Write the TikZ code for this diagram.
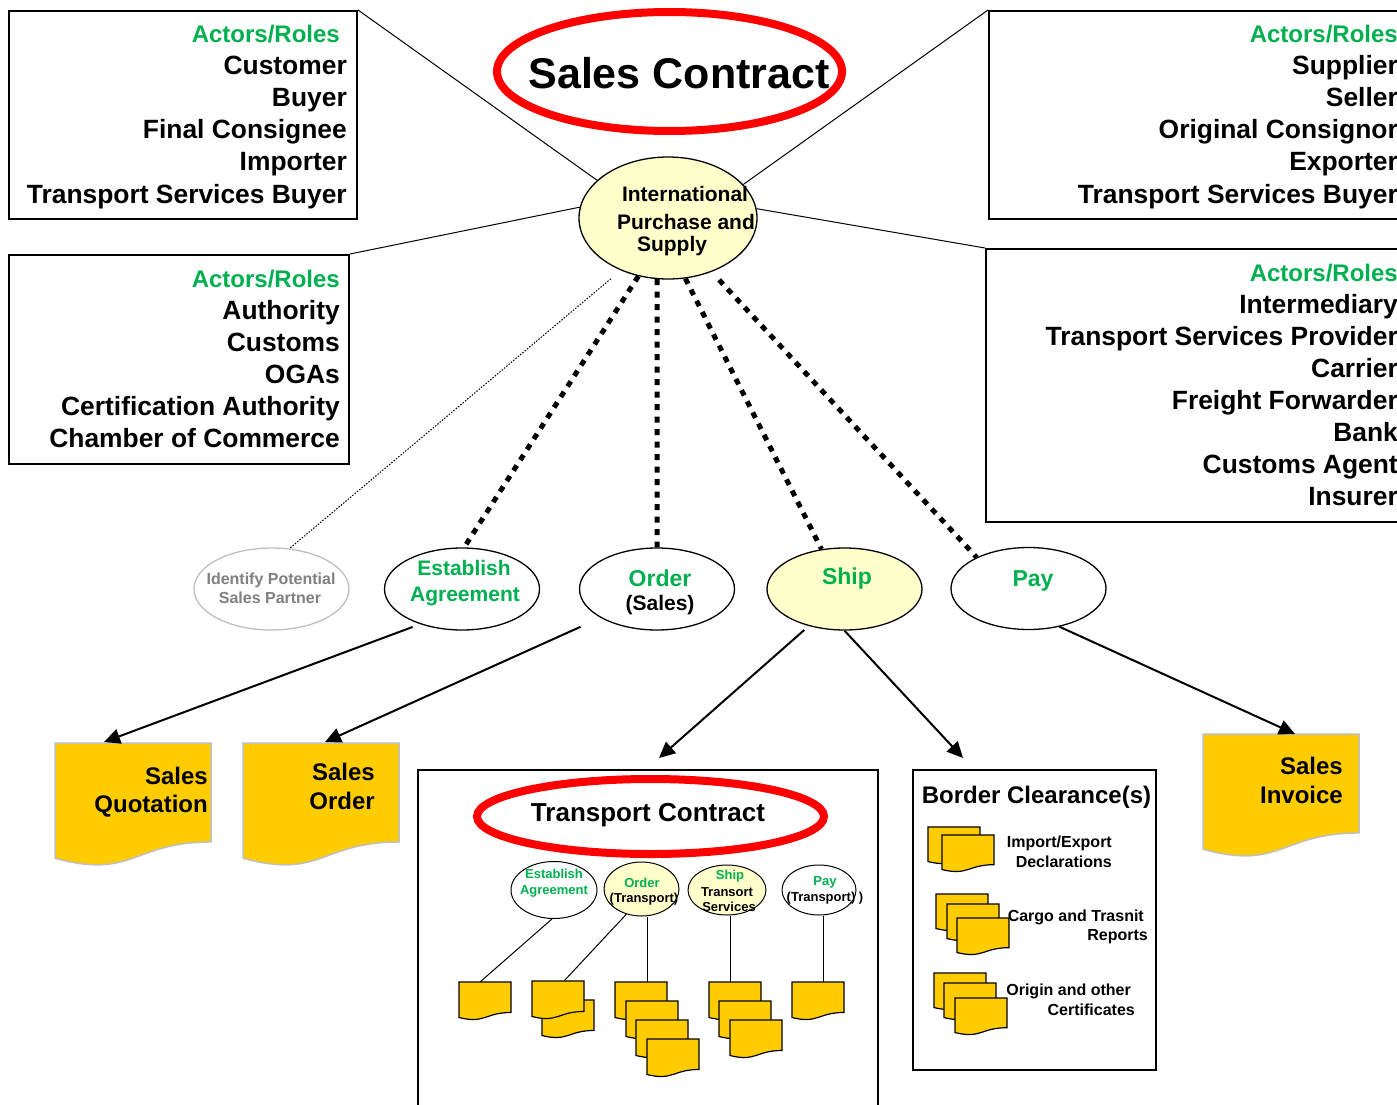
\documentclass[tikz,border=0pt]{standalone}
\usepackage{fontspec}
\setmainfont{Liberation Sans}
\usetikzlibrary{shapes.geometric,arrows.meta}
\definecolor{grn}{RGB}{0,176,80}
\definecolor{ctred}{RGB}{255,0,0}
\definecolor{paleyel}{RGB}{255,255,204}
\definecolor{docyel}{RGB}{255,204,0}
\definecolor{lgray}{RGB}{191,191,191}
\definecolor{tgray}{RGB}{128,128,128}
\newcommand{\myfs}[1]{\fontsize{#1}{#1}\selectfont\bfseries}
\newcommand{\docshp}[5][]{\draw[#1] (#2,#3) -- (#2+#4,#3) -- (#2+#4,#3+0.802*#5) .. controls (#2+0.5*#4,#3+0.802*#5) and (#2+0.5*#4,#3+1.1075*#5) .. (#2,#3+0.934*#5) -- cycle;}
\begin{document}
\begin{tikzpicture}[x=1pt,y=-1pt,
  box/.style={draw, line width=2pt, inner sep=0pt, anchor=north west},
  role/.style={inner sep=0pt, anchor=base east, font=\myfs{26.4}},
  hdr/.style={role, text=grn, font=\myfs{24}},
  ell/.style={draw, ellipse, inner sep=0pt, line width=1.3pt, fill=white},
  rowell/.style={ell, minimum width=155pt, minimum height=82pt},
  lbl/.style={inner sep=0pt, font=\myfs{#1}},
  conn/.style={line width=1pt},
  arr/.style={line width=2pt, -{Triangle[length=16pt,width=15pt]}},
  fat/.style={line width=5pt, dash pattern=on 6pt off 6.5pt},
  thindot/.style={line width=1pt, dash pattern=on 1.5pt off 1.5pt},
  bigdoc/.style={draw=lgray, line width=1.5pt, fill=docyel},
  smalldoc/.style={draw=black, line width=1.2pt, fill=docyel},
  redell/.style={draw=ctred, ellipse, line width=8pt, inner sep=0pt}
]
\useasboundingbox (0,0) rectangle (1397,1105);
\fill[white] (0,0) rectangle (1397,1105);
\clip (0,0) rectangle (1397,1105);

% role boxes
\node[box, minimum width=348pt, minimum height=208pt] (b1) at (8,10) {};
\node[box, minimum width=340pt, minimum height=209pt] (b2) at (8,254) {};
\node[box, minimum width=440pt, minimum height=208pt] (rb1) at (988,10) {};
\node[box, minimum width=440pt, minimum height=273pt] (rb2) at (985,248) {};
\node[box, minimum width=460pt, minimum height=380pt] (tbox) at (417,769) {};
\node[box, minimum width=243pt, minimum height=300pt] (bbox) at (912,769) {};

\node[hdr] (b1h) at (340,43) {Actors/Roles};
\foreach \rl [count=\i] in {Customer,Buyer,Final Consignee,Importer,Transport Services Buyer}
  \node[role] (b1r\i) at (347,43+32*\i) {\rl};
\node[hdr] (b2h) at (340,287) {Actors/Roles};
\foreach \rl [count=\i] in {Authority,Customs,OGAs,Certification Authority,Chamber of Commerce}
  \node[role] (b2r\i) at (340,287+32*\i) {\rl};
\node[hdr] (rb1h) at (1398,43) {Actors/Roles};
\foreach \rl [count=\i] in {Supplier,Seller,Original Consignor,Exporter,Transport Services Buyer}
  \node[role] (rb1r\i) at (1398,43+32*\i) {\rl};
\node[hdr] (rb2h) at (1398,281) {Actors/Roles};
\foreach \rl [count=\i] in {Intermediary,Transport Services Provider,Carrier,Freight Forwarder,Bank,Customs Agent,Insurer}
  \node[role] (rb2r\i) at (1398,281+32*\i) {\rl};

% sales contract
\node[redell, minimum width=345pt, minimum height=119pt] (sc) at (669.5,71.5) {};
\node[lbl=43] (sct) at (679,73) {Sales Contract};
\node[ell, fill=paleyel, minimum width=178pt, minimum height=122pt] (ips) at (668,218) {};
\node[lbl=21] (ips1) at (685,194) {International};
\node[lbl=21] (ips2) at (686,222) {Purchase and};
\node[lbl=21] (ips3) at (672,246) {Supply};

\draw[conn] (b1.north east) -- (ips.152);
\draw[conn] (b2.north east) -- (ips.173);
\draw[conn] (rb1.north west) -- (ips.24);
\draw[conn] (rb2.north west) -- (ips.6);

% process row
\node[rowell, draw=lgray] (idf) at (271.5,589) {};
\node[lbl=16, text=tgray] (idf1) at (271,580) {Identify Potential};
\node[lbl=16, text=tgray] (idf2) at (270,598) {Sales Partner};
\node[rowell] (est) at (462,589) {};
\node[lbl=21, text=grn] (est1) at (464,568) {Establish};
\node[lbl=21, text=grn] (est2) at (465,596) {Agreement};
\node[rowell] (ord) at (657,589) {};
\node[lbl=23, text=grn] (ord1) at (660,578) {Order};
\node[lbl=21] (ord2) at (660,605) {(Sales)};
\node[rowell, fill=paleyel] (ship) at (844.5,589) {};
\node[lbl=23, text=grn] (ship1) at (847,579) {Ship};
\node[rowell] (pay) at (1028.5,588.5) {};
\node[lbl=23, text=grn] (pay1) at (1033,581) {Pay};

\draw[thindot, shorten <=13pt] (ips.228) -- (idf.66);
\draw[fat] (ips.243) -- (est.87);
\draw[fat] (ips.260) -- (ord.north);
\draw[fat] (ips.-74) -- (ship.120);
\draw[fat, shorten <=11pt] (ips.-51) -- (pay.149);

% sales documents
\docshp[bigdoc]{55}{743}{156}{123.4}
\node[lbl=24, anchor=east] (sq1) at (208,776) {Sales};
\node[lbl=24, anchor=east] (sq2) at (208,806) {Quotation};
\coordinate (sqT) at (104,742);
\docshp[bigdoc]{243}{743}{156}{123.4}
\node[lbl=24, anchor=east] (so1) at (375,772) {Sales};
\node[lbl=24, anchor=east] (so2) at (375,801) {Order};
\coordinate (soT) at (325,742);
\docshp[bigdoc]{1203}{734}{156}{123.4}
\node[lbl=24, anchor=east] (si1) at (1343,766) {Sales};
\node[lbl=24, anchor=east] (si2) at (1343,795) {Invoice};
\coordinate (siT) at (1295,734);
\coordinate (trT) at (659,758);
\coordinate (bcT) at (963,758);

\draw[arr, shorten <=8pt] (est.220) -- (sqT);
\draw[arr, shorten <=22pt] (ord.207) -- (soT);
\draw[arr, shorten <=6pt] (ship.226) -- (trT);
\draw[arr] (ship.south) -- (bcT);
\draw[arr] (pay.-51) -- (siT);

% transport contract
\node[redell, minimum width=347pt, minimum height=75pt] (tc) at (650.5,816.5) {};
\node[lbl=26] (tct) at (648,815) {Transport Contract};

\node[ell, line width=1pt, minimum width=86pt, minimum height=57pt] (se1) at (554,890) {};
\node[lbl=13, text=grn] (se1a) at (554,874) {Establish};
\node[lbl=13, text=grn] (se1b) at (554,891) {Agreement};
\node[ell, line width=1pt, fill=paleyel, minimum width=75pt, minimum height=54pt] (se2) at (641.5,889) {};
\node[lbl=13, text=grn] (se2a) at (642,883) {Order};
\node[lbl=13] (se2b) at (644,899) {(Transport)};
\node[ell, line width=1pt, fill=paleyel, minimum width=78pt, minimum height=50pt] (se3) at (727,890) {};
\node[lbl=13, text=grn] (se3a) at (730,876) {Ship};
\node[lbl=13] (se3b) at (727,892) {Transort};
\node[lbl=13] (se3c) at (729,907) {Services};
\node[ell, line width=1pt, minimum width=74pt, minimum height=50pt] (se4) at (819,890) {};
\node[lbl=13, text=grn] (se4a) at (825,882) {Pay};
\node[lbl=13] (se4b) at (825,898) {(Transport) )};

\coordinate (dA) at (480,982);
\coordinate (dB) at (564,981);
\coordinate (dC) at (647,982);
\coordinate (dD) at (730,982);
\coordinate (dE) at (823,982);
\draw[conn] (se1.266) -- (dA);
\draw[conn] (se2.239) -- (dB);
\draw[conn] (dC |- se2.south) -- (dC);
\draw[conn] (dD |- se3.south) -- (dD);
\draw[conn] (dE |- se4.south) -- (dE);

\docshp[smalldoc]{459}{982}{52}{38}
\docshp[smalldoc]{542}{1000}{52}{38}
\docshp[smalldoc]{532}{981}{52}{38}
\docshp[smalldoc]{615}{982}{52}{38}
\docshp[smalldoc]{626}{1001}{52}{38}
\docshp[smalldoc]{636}{1020}{52}{38}
\docshp[smalldoc]{647}{1039}{52}{38}
\docshp[smalldoc]{709}{982}{52}{38}
\docshp[smalldoc]{719}{1001}{52}{38}
\docshp[smalldoc]{730}{1020}{52}{38}
\docshp[smalldoc]{792}{982}{52}{38}

% border clearance
\node[lbl=24] (bct) at (1036.5,797) {Border Clearance(s)};
\docshp[smalldoc]{928}{827}{52}{37}
\docshp[smalldoc]{942}{835}{52}{37}
\node[lbl=16, anchor=east] (bc1a) at (1112,843) {Import/Export};
\node[lbl=16, anchor=east] (bc1b) at (1112,862) {Declarations};
\docshp[smalldoc]{936}{894}{52}{37}
\docshp[smalldoc]{947}{904}{52}{37}
\docshp[smalldoc]{957}{918}{52}{37}
\node[lbl=16, anchor=east] (bc2a) at (1144,917) {Cargo and Trasnit};
\node[lbl=16, anchor=east] (bc2b) at (1148,937) {Reports};
\docshp[smalldoc]{934}{973}{52}{37}
\docshp[smalldoc]{944}{983}{52}{37}
\docshp[smalldoc]{955}{998}{52}{37}
\node[lbl=16, anchor=east] (bc3a) at (1131,991) {Origin and other};
\node[lbl=16, anchor=east] (bc3b) at (1135,1010) {Certificates};
\end{tikzpicture}
\end{document}
